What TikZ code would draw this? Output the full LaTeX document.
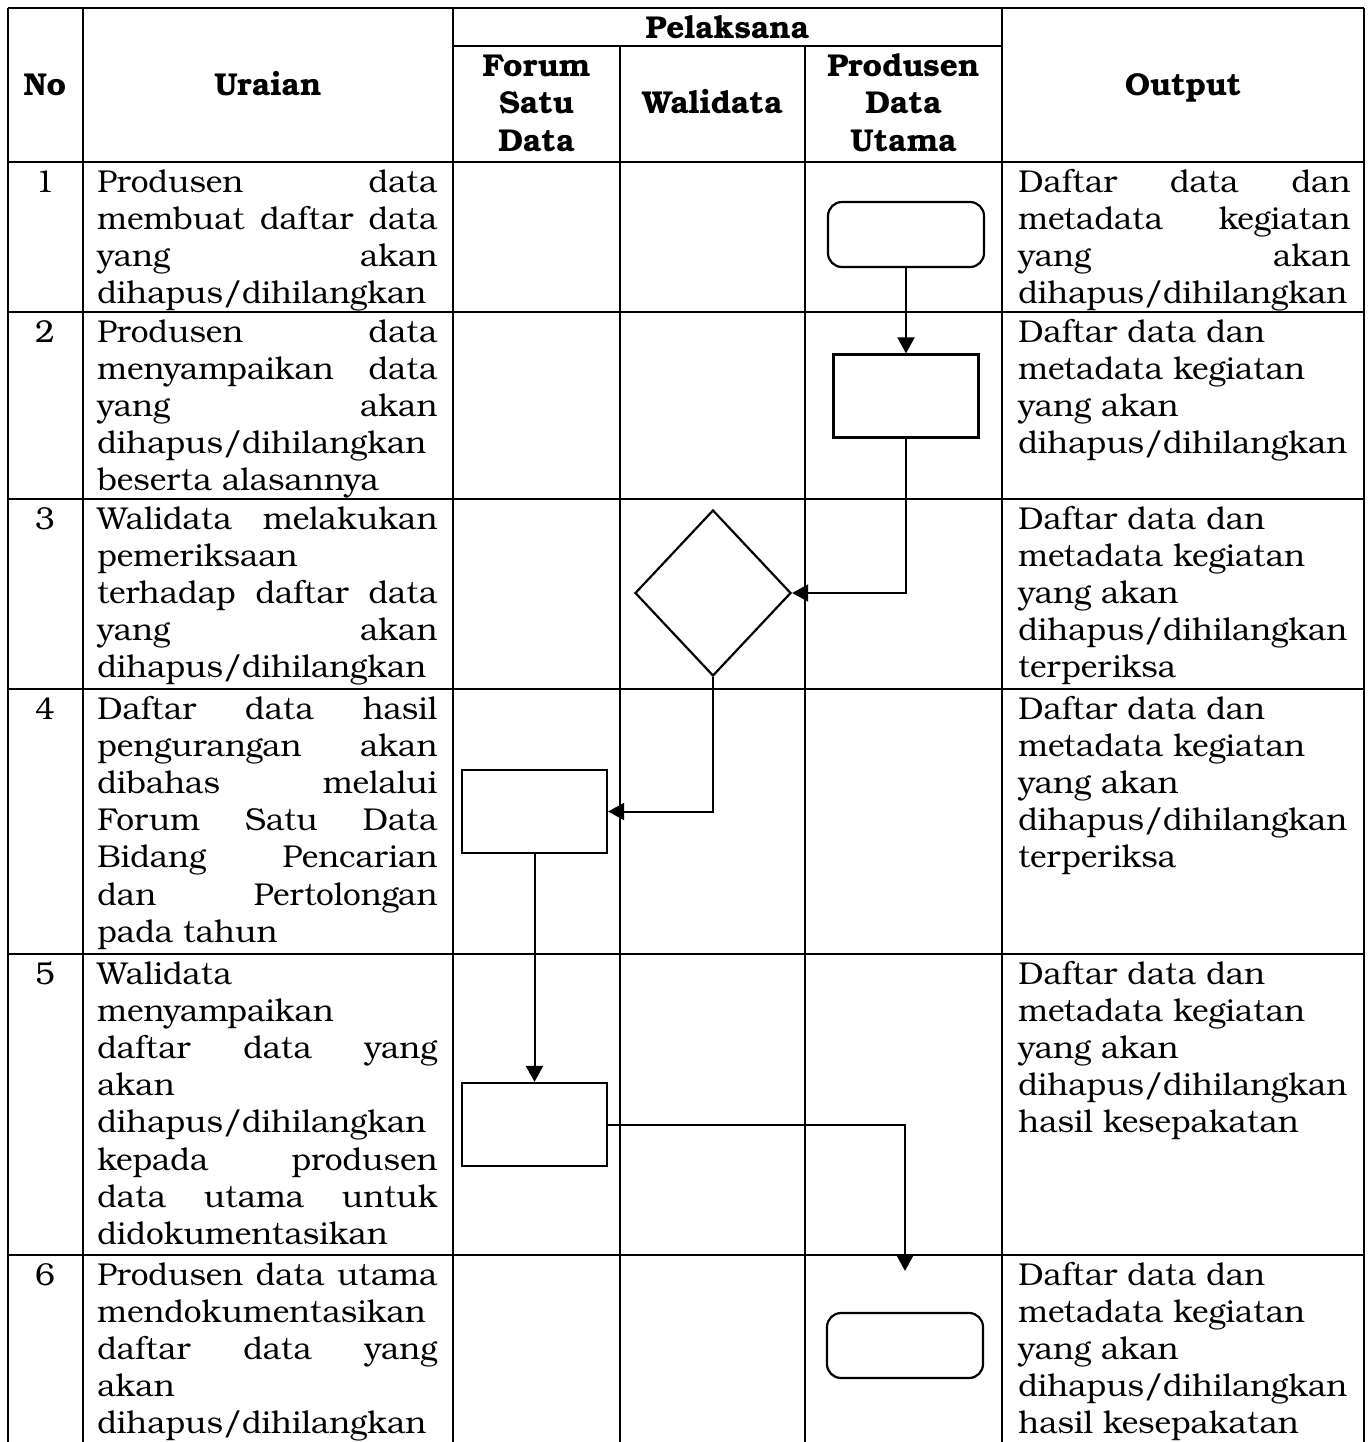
\documentclass[tikz,border=0pt]{standalone}
\usepackage{fontspec}
\setmainfont{texgyrebonum}[Extension=.otf, UprightFont=*-regular, BoldFont=*-bold, ItalicFont=*-italic, BoldItalicFont=*-bolditalic]
\usetikzlibrary{arrows.meta,shapes.geometric}

% justified lines in the description and output columns
\newcommand\jst[1]{\makebox[170pt][s]{#1}}
\newcommand\jso[1]{\makebox[166pt][s]{#1}}
% one cell of text: name prefix, left x, first baseline, list of lines
\newcommand\celltext[4]{%
  \foreach \t [count=\k] in {#4}
    \node[txt] (#1-\k) at (#2,{#3+37.2*(\k-1)}) {\t};}

\begin{document}
\begin{tikzpicture}[x=0.5pt,y=-0.5pt,
  font=\fontsize{15.8}{19}\selectfont,
  grid/.style={line width=1.2pt},
  txt/.style={anchor=base west, inner sep=0pt},
  hd/.style={anchor=base, inner sep=0pt, font=\fontsize{15.8}{19}\selectfont\bfseries},
  numtxt/.style={anchor=base, inner sep=0pt},
  procbox/.style={draw, line width=1.1pt, minimum width=72.5pt, minimum height=41.5pt, inner sep=0pt},
  termbox/.style={draw, line width=1.1pt, rounded corners=7pt, minimum width=78pt, minimum height=32.5pt, inner sep=0pt},
  decbox/.style={draw, diamond, line width=1.1pt, minimum width=78pt, minimum height=83pt, inner sep=0pt},
  arr/.style={-{Triangle[length=8pt,width=8.5pt]}, line width=1pt}]

\useasboundingbox (0,0) rectangle (1372,1442);

% table grid
\draw[grid] (8,8) -- (1364,8);
\draw[grid] (453,46) -- (1002,46);
\foreach \ry in {162,312,499,689,954,1255}
  \draw[grid] (8,\ry) -- (1364,\ry);
\foreach \cx in {8,83,453,1002,1364}
  \draw[grid] (\cx,8) -- (\cx,1442);
\foreach \cx in {620,805}
  \draw[grid] (\cx,46) -- (\cx,1442);

% header
\node[hd] (hno) at (45,95) {No};
\node[hd] (hur) at (268,95) {Uraian};
\node[hd] (hpel) at (727.5,38) {Pelaksana};
\node[hd] (hfs1) at (536.5,76) {Forum};
\node[hd] (hfs2) at (536.5,113) {Satu};
\node[hd] (hfs3) at (536.5,151) {Data};
\node[hd] (hwd) at (712.5,113) {Walidata};
\node[hd] (hpd1) at (903.5,76) {Produsen};
\node[hd] (hpd2) at (903.5,113) {Data};
\node[hd] (hpd3) at (903.5,151) {Utama};
\node[hd] (hout) at (1183,95) {Output};

% step numbers
\foreach \ry/\n in {192/1,342/2,529/3,719/4,984/5,1285/6}
  \node[numtxt] (no\n) at (45,\ry) {\n};

% descriptions
\celltext{ua}{97}{192}{{\jst{Produsen data}},{\jst{membuat daftar data}},{\jst{yang akan}},{dihapus/dihilangkan}}
\celltext{ub}{97}{342}{{\jst{Produsen data}},{\jst{menyampaikan data}},{\jst{yang akan}},{dihapus/dihilangkan},{beserta alasannya}}
\celltext{uc}{97}{529}{{\jst{Walidata melakukan}},{pemeriksaan},{\jst{terhadap daftar data}},{\jst{yang akan}},{dihapus/dihilangkan}}
\celltext{ud}{97}{719}{{\jst{Daftar data hasil}},{\jst{pengurangan akan}},{\jst{dibahas melalui}},{\jst{Forum Satu Data}},{\jst{Bidang Pencarian}},{\jst{dan Pertolongan}},{pada tahun}}
\celltext{ue}{97}{984}{{Walidata},{menyampaikan},{\jst{daftar data yang}},{akan},{dihapus/dihilangkan},{\jst{kepada produsen}},{\jst{data utama untuk}},{didokumentasikan}}
\celltext{uf}{97}{1285}{{\jst{Produsen data utama}},{mendokumentasikan},{\jst{daftar data yang}},{akan},{dihapus/dihilangkan}}

% outputs
\celltext{oa}{1018}{192}{{\jso{Daftar data dan}},{\jso{metadata kegiatan}},{\jso{yang akan}},{dihapus/dihilangkan}}
\celltext{ob}{1018}{342}{{Daftar data dan},{metadata kegiatan},{yang akan},{dihapus/dihilangkan}}
\celltext{oc}{1018}{529}{{Daftar data dan},{metadata kegiatan},{yang akan},{dihapus/dihilangkan},{terperiksa}}
\celltext{od}{1018}{719}{{Daftar data dan},{metadata kegiatan},{yang akan},{dihapus/dihilangkan},{terperiksa}}
\celltext{oe}{1018}{984}{{Daftar data dan},{metadata kegiatan},{yang akan},{dihapus/dihilangkan},{hasil kesepakatan}}
\celltext{of}{1018}{1285}{{Daftar data dan},{metadata kegiatan},{yang akan},{dihapus/dihilangkan},{hasil kesepakatan}}

% flow shapes
\node[termbox] (s1) at (906,234.5) {};
\node[procbox] (s2) at (906,396) {};
\node[decbox]  (s3) at (713,593) {};
\node[procbox] (s4) at (534.5,811.5) {};
\node[procbox] (s5) at (534.5,1124.5) {};
\node[termbox] (s6) at (905,1345.5) {};

% connectors
\draw[arr] (s1.south) -- (s2.north);
\draw[arr] (s2.south) |- (s3.east);
\draw[arr] (s3.south) |- (s4.east);
\draw[arr] (s4.south) -- (s5.north);
\draw[arr, shorten >=20.5pt] (s5.east) -| (s6.north);
\end{tikzpicture}
\end{document}
